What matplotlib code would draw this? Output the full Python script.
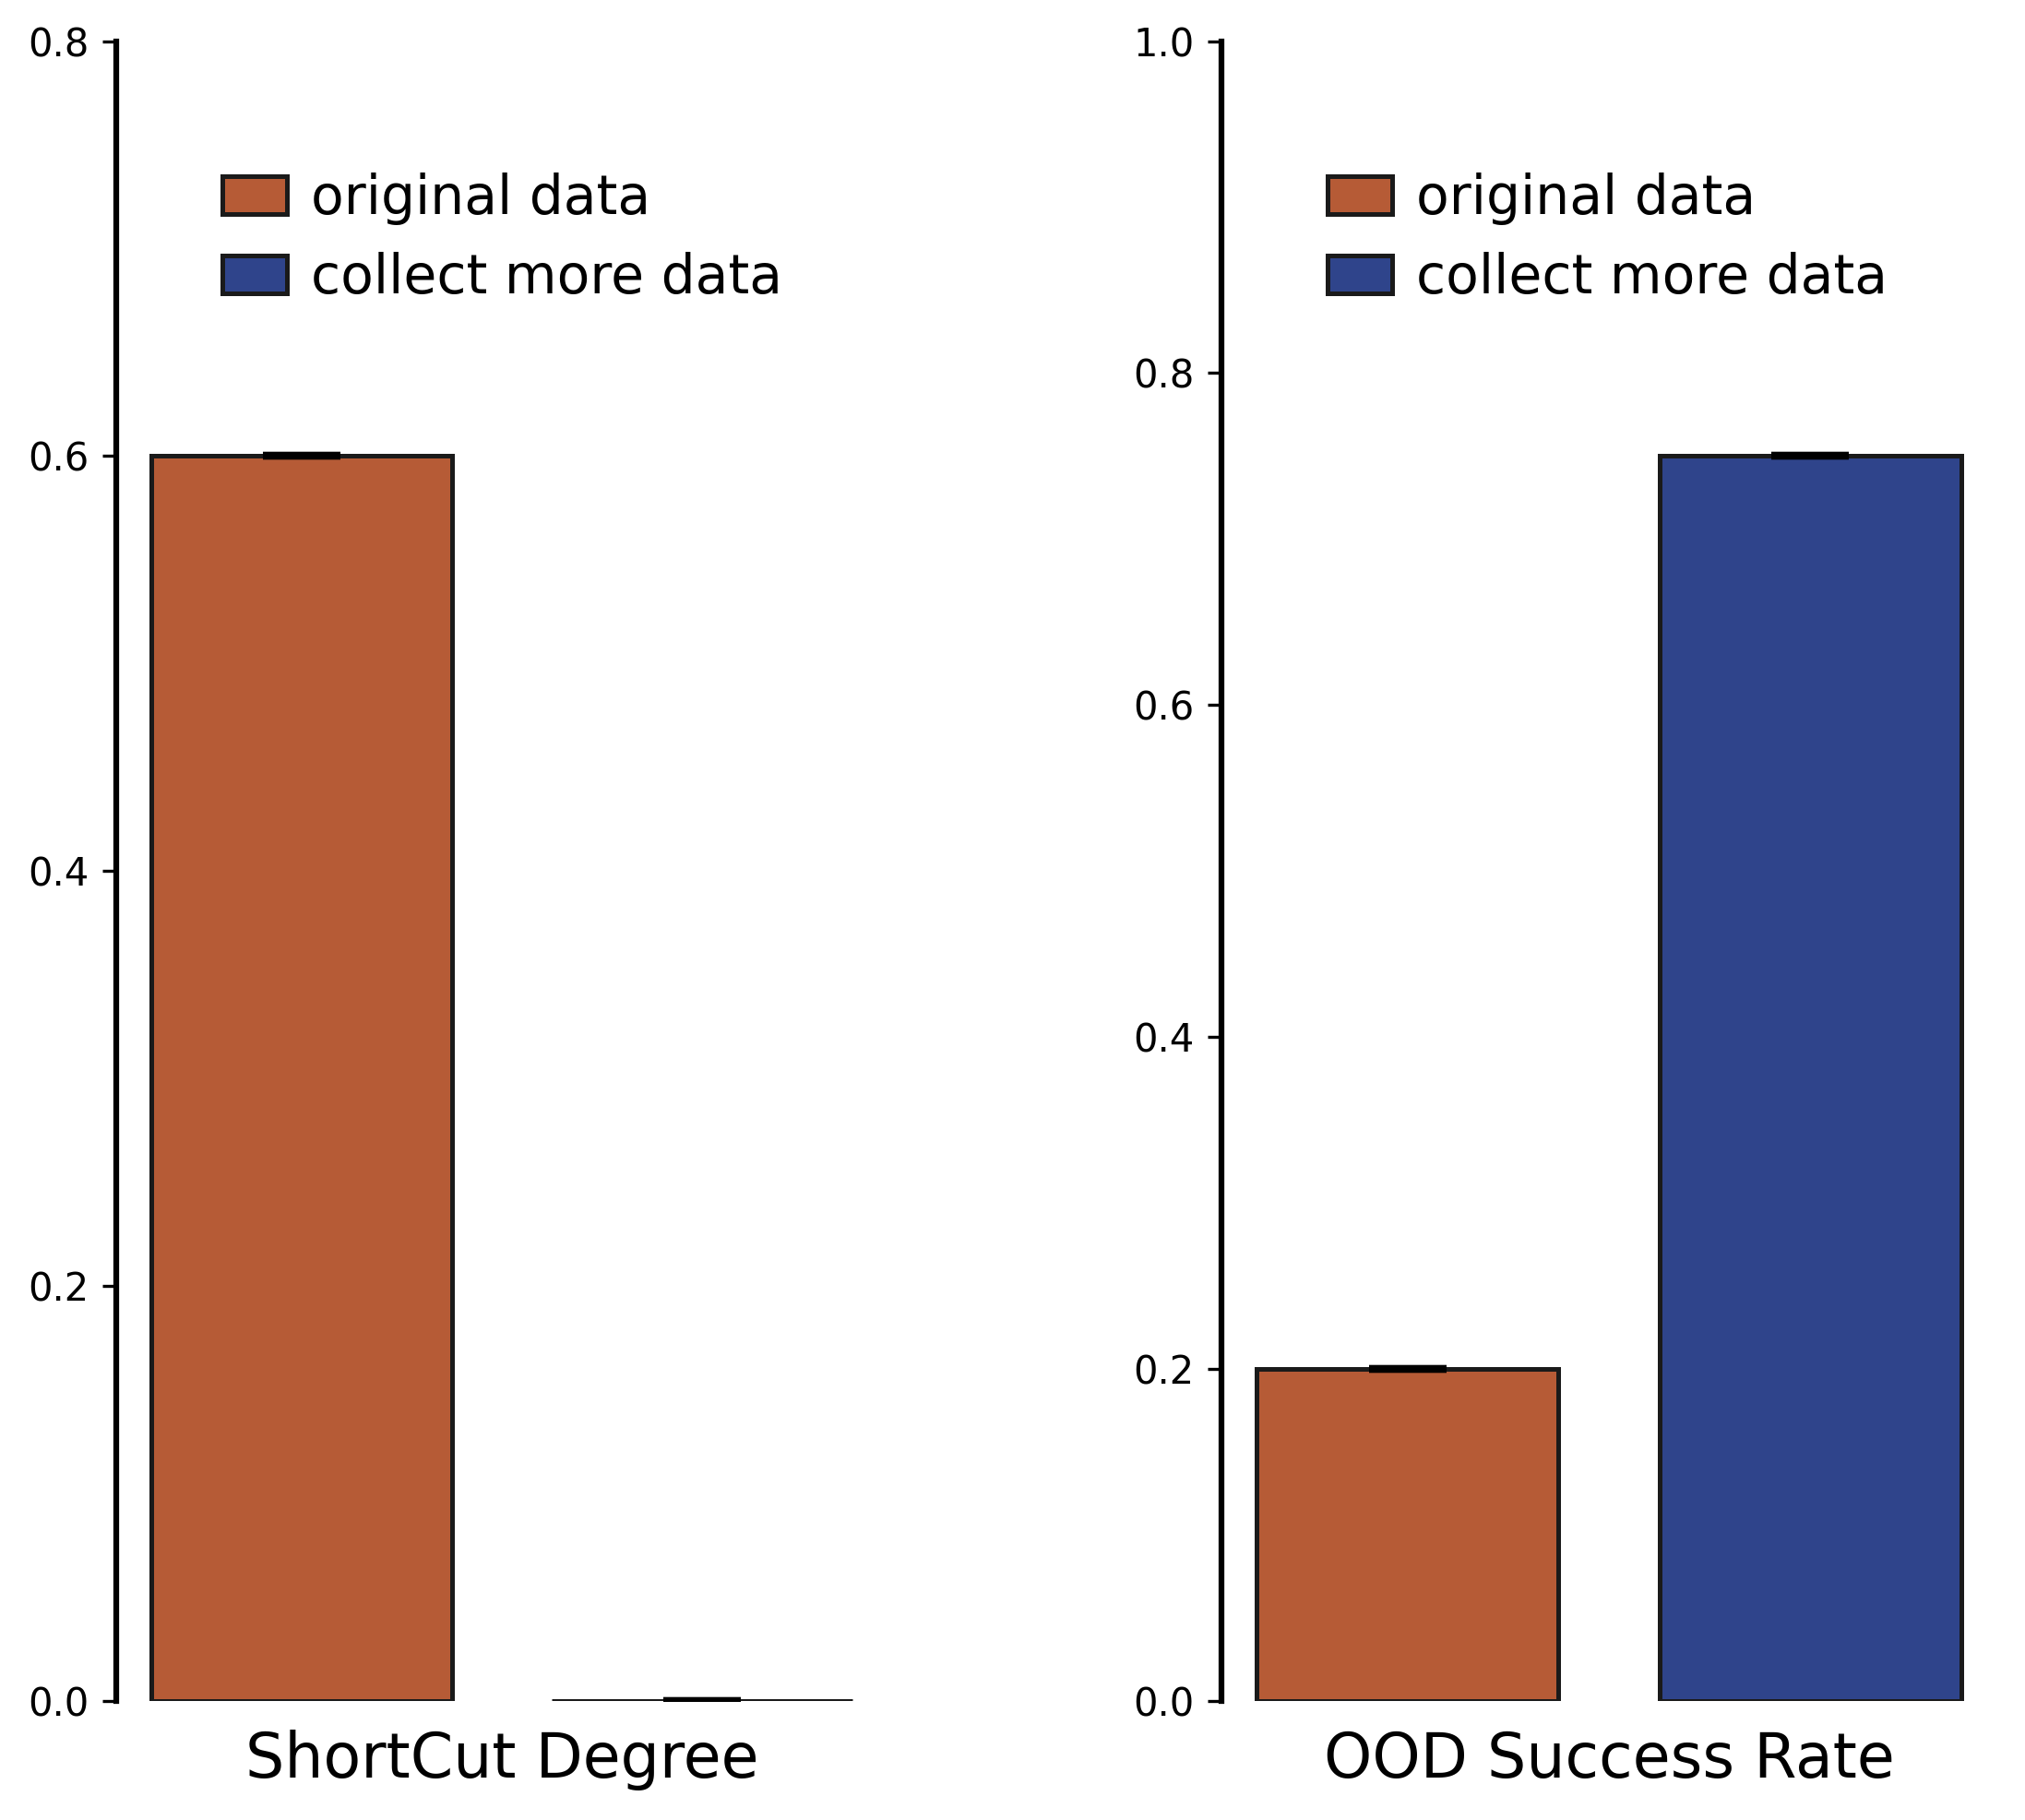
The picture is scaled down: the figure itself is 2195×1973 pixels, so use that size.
import matplotlib
matplotlib.use("Agg")
import matplotlib.pyplot as plt
import numpy as np

# values
groups = ["original data", "collect more data"]
colors = ["#B65B36", "#2F448B"]

shortcut_degree = [0.6, 0.0]
shortcut_err = [0.0, 0.0]

ood_success = [0.2, 0.75]
ood_err = [0.0, 0.0]

panels = [
    ("ShortCut Degree", shortcut_degree, shortcut_err, 0.8, [0.0, 0.2, 0.4, 0.6, 0.8]),
    ("OOD Success Rate", ood_success, ood_err, 1.0, [0.0, 0.2, 0.4, 0.6, 0.8, 1.0]),
]

fig = plt.figure(figsize=(2195 / 300, 1973 / 300), dpi=300)
axes = [fig.add_axes([0.0574, 0.0654, 0.381, 0.912]),
        fig.add_axes([0.603, 0.0654, 0.383, 0.912])]

for ax, (label, vals, errs, top, ticks) in zip(axes, panels):
    x = np.arange(len(vals))
    for i in range(len(vals)):
        ax.bar(x[i], vals[i], width=0.75, color=colors[i], edgecolor="#1a1a1a",
               linewidth=1.2, label=groups[i],
               yerr=errs[i], capsize=10,
               error_kw=dict(ecolor="black", capthick=2, elinewidth=1.5))
    ax.set_ylim(0, top)
    ax.set_yticks(ticks)
    ax.set_yticklabels([f"{t:.1f}" for t in ticks], fontsize=10)
    ax.set_xticks([])
    ax.set_xlabel(label, fontsize=16, labelpad=7.5)
    for s in ["top", "right", "bottom"]:
        ax.spines[s].set_visible(False)
    ax.spines["left"].set_linewidth(1.5)
    ax.tick_params(axis="y", width=0.8, length=3.5)
    ax.legend(loc="upper left", bbox_to_anchor=(0.075, 0.95), frameon=False,
              fontsize=14, handlelength=1.2, labelspacing=0.5, handletextpad=0.45)

fig.savefig("out.png", dpi=300)
